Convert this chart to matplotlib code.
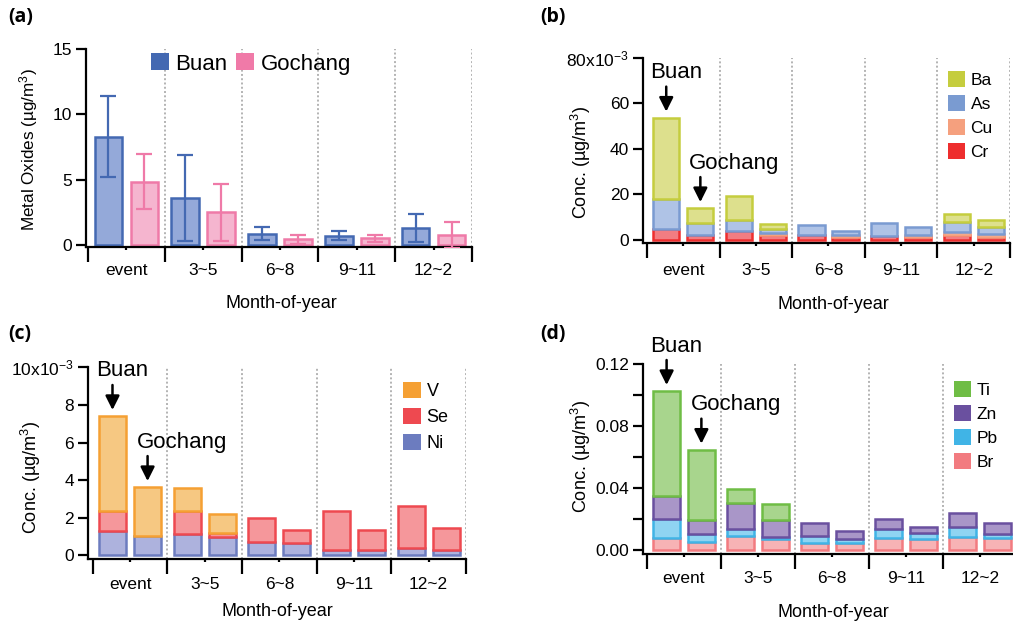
import numpy as np
import matplotlib
matplotlib.use('Agg')
import matplotlib.pyplot as plt
from matplotlib.patches import Patch
from matplotlib.transforms import offset_copy

plt.rcParams['font.family'] = ['Liberation Sans', 'DejaVu Sans']
plt.rcParams['mathtext.default'] = 'regular'

W, H = 1013, 622

periods = ['event', '3~5', '6~8', '9~11', '12~2']
sites = ['Buan', 'Gochang']

# (a) metal oxides, ug/m3
oxide_buan = [8.3, 3.6, 0.85, 0.7, 1.3]
oxide_buan_err = [3.1, 3.3, 0.5, 0.35, 1.1]
oxide_gochang = [4.85, 2.5, 0.45, 0.5, 0.75]
oxide_gochang_err = [2.1, 2.2, 0.35, 0.25, 1.0]

# (b) x10^-3 ug/m3, stacked bottom->top: Cr, Cu, As, Ba
b_elements = ['Cr', 'Cu', 'As', 'Ba']
Cr_buan = [5.0, 4.0, 2.2, 1.75, 2.2]
Cu_buan = [0.0, 0.0, 0.0, 0.0, 1.45]
As_buan = [12.9, 4.8, 4.4, 5.85, 4.35]
Ba_buan = [35.8, 10.3, 0.0, 0.0, 3.2]
Cr_gochang = [2.2, 2.2, 1.5, 1.5, 1.5]
Cu_gochang = [0.0, 0.7, 0.7, 0.8, 1.1]
As_gochang = [5.1, 1.8, 1.9, 3.55, 3.25]
Ba_gochang = [6.7, 2.2, 0.0, 0.0, 3.05]

# (c) x10^-3 ug/m3, stacked bottom->top: Ni, Se, V
c_elements = ['Ni', 'Se', 'V']
Ni_buan = [1.28, 1.12, 0.72, 0.30, 0.37]
Se_buan = [1.09, 1.25, 1.26, 2.07, 2.27]
V_buan = [5.04, 1.21, 0.0, 0.0, 0.0]
Ni_gochang = [1.04, 0.96, 0.64, 0.30, 0.30]
Se_gochang = [0.0, 0.24, 0.69, 1.06, 1.17]
V_gochang = [2.59, 1.01, 0.0, 0.0, 0.0]

# (d) ug/m3, stacked bottom->top: Br, Pb, Zn, Ti
d_elements = ['Br', 'Pb', 'Zn', 'Ti']
Br_buan = [0.0077, 0.0092, 0.0045, 0.0079, 0.0084]
Pb_buan = [0.0125, 0.0043, 0.0049, 0.0058, 0.0064]
Zn_buan = [0.0148, 0.0170, 0.0084, 0.0067, 0.0094]
Ti_buan = [0.0676, 0.0088, 0.0, 0.0, 0.0]
Br_gochang = [0.0055, 0.0073, 0.0045, 0.0071, 0.0077]
Pb_gochang = [0.0048, 0.0012, 0.0028, 0.0042, 0.0026]
Zn_gochang = [0.0090, 0.0112, 0.0053, 0.0039, 0.0073]
Ti_gochang = [0.0455, 0.0101, 0.0, 0.0, 0.0]

# colours (edge, fill, legend)
site_edge = ['#4469b2', '#ef7aa8']
site_fill = ['#94a9d9', '#f5b5cf']
b_edge = ['#ee2e2e', '#f5a07e', '#7a9bd1', '#c5cd3e']
b_fill = ['#f27d82', '#f9c5ae', '#afc3e6', '#dde08d']
c_edge = ['#6c7cbf', '#ee4950', '#f5a033']
c_fill = ['#adb2dd', '#f5979b', '#f6c882']
d_edge = ['#f27b80', '#40b4e6', '#6a509f', '#6fbd45']
d_fill = ['#f7b3b5', '#8fd4f2', '#a996c8', '#a8d58d']

OFFSET = 0.235
BW = 0.36
ELW = 1.8
TFS = 12.5   # tick label size
LFS = 13     # axis label size

fig = plt.figure(figsize=(W / 100, H / 100), dpi=100)


def make_axes(l, t, r, b):
    return fig.add_axes([l / W, 1 - b / H, (r - l) / W, (b - t) / H])


def style(ax, xlim, ylim, yticks, yticklabels, xpad, ylab, ylab_pos, xlab_pos, yminor=None, ylfs=LFS):
    for s in ['top', 'right']:
        ax.spines[s].set_visible(False)
    for s in ['left', 'bottom']:
        ax.spines[s].set_linewidth(1.6)
    ax.set_xlim(*xlim)
    ax.set_ylim(*ylim)
    ax.set_xticks(np.arange(6))
    ax.set_xticklabels([])
    ax.set_xticks(np.arange(5) + 0.5, minor=True)
    ax.set_xticklabels(periods, minor=True)
    ax.tick_params(axis='x', which='major', length=11, width=1.6, direction='out')
    ax.tick_params(axis='x', which='minor', length=2.2, width=1.6, direction='out',
                   pad=xpad, labelsize=TFS)
    ax.set_yticks(yticks)
    ax.set_yticklabels(yticklabels)
    if yminor is not None:
        ax.set_yticks(yminor, minor=True)
    ax.tick_params(axis='y', which='both', length=7.5, width=1.6, direction='out',
                   pad=2.5, labelsize=TFS)
    for i in range(1, 6):
        ax.axvline(i, color='#b3b3b3', lw=1.4, ls=(0, (1, 1.2)), zorder=0)
    ax.set_ylabel(ylab, fontsize=ylfs)
    ax.yaxis.set_label_coords(*ylab_pos)
    ax.set_xlabel('Month-of-year', fontsize=LFS)
    ax.xaxis.set_label_coords(*xlab_pos)


def stack(ax, layers_by_site, edges, fills):
    x = np.arange(5) + 0.5
    tops = []
    for si, layers in enumerate(layers_by_site):
        xs = x - OFFSET if si == 0 else x + OFFSET
        bottom = np.zeros(5)
        for li, vals in enumerate(layers):
            v = np.asarray(vals, dtype=float)
            lw = np.where(v > 0, ELW, 0.0)
            ax.bar(xs, v, BW, bottom=bottom, color=fills[li], edgecolor=edges[li],
                   linewidth=lw, zorder=2)
            bottom = bottom + v
        tops.append(bottom)
    return tops


def annotate_sites(ax, tops):
    x0 = 0.5
    for si, name in enumerate(sites):
        xs = x0 - OFFSET if si == 0 else x0 + OFFSET
        top = tops[si][0]
        tip = offset_copy(ax.transData, fig=fig, x=0, y=6, units='dots')
        ax.annotate('', xy=(xs, top), xycoords=tip, xytext=(0, 25), textcoords='offset pixels',
                    arrowprops=dict(arrowstyle='-|>', lw=1.8, color='black',
                                    mutation_scale=21, shrinkA=0, shrinkB=0))
        dx = -16 if si == 0 else -11
        ax.annotate(name, xy=(xs, top), xytext=(dx, 45), textcoords='offset pixels',
                    ha='left', va='center', fontsize=16)


def legend(ax, names, colors, anchor, fs=12.5):
    handles = [Patch(facecolor=c, edgecolor='none', label=n) for n, c in zip(names, colors)]
    ax.legend(handles=handles, loc='upper left', bbox_to_anchor=(anchor[0] / W, 1 - anchor[1] / H),
              bbox_transform=fig.transFigure, frameon=False, fontsize=fs, borderpad=0,
              borderaxespad=0, handlelength=1.0, handleheight=1.0, handletextpad=0.3,
              labelspacing=0.42)


# ---------------- (a)
axa = make_axes(86, 49, 472, 247)
x = np.arange(5) + 0.5
axa.bar(x - OFFSET, oxide_buan, BW, color=site_fill[0], edgecolor=site_edge[0], linewidth=ELW, zorder=2)
axa.bar(x + OFFSET, oxide_gochang, BW, color=site_fill[1], edgecolor=site_edge[1], linewidth=ELW, zorder=2)
axa.errorbar(x - OFFSET, oxide_buan, yerr=oxide_buan_err, fmt='none', ecolor=site_edge[0],
             elinewidth=1.6, capsize=5.5, capthick=1.6, zorder=3)
axa.errorbar(x + OFFSET, oxide_gochang, yerr=oxide_gochang_err, fmt='none', ecolor=site_edge[1],
             elinewidth=1.6, capsize=5.5, capthick=1.6, zorder=3)
style(axa, (-0.026, 5), (-0.153, 15), [0, 5, 10, 15], ['0', '5', '10', '15'], 9.5,
      'Metal Oxides (µg/m$^3$)', (-0.118, 0.492), (0.505, -0.242), ylfs=12.3)
hs = [Patch(facecolor=c, edgecolor='none', label=n) for n, c in zip(sites, ['#4469b2', '#f07aa8'])]
axa.legend(handles=hs, loc='center left', bbox_to_anchor=(151 / W, 1 - 64 / H),
           bbox_transform=fig.transFigure, frameon=False, fontsize=16, ncol=2,
           borderpad=0, borderaxespad=0, handlelength=0.8, handleheight=0.8,
           handletextpad=0.3, columnspacing=0.4)

# ---------------- (b)
axb = make_axes(643, 57.7, 1010, 243.3)
tb = stack(axb, [[Cr_buan, Cu_buan, As_buan, Ba_buan],
                 [Cr_gochang, Cu_gochang, As_gochang, Ba_gochang]], b_edge, b_fill)
style(axb, (-0.055, 5), (-1.45, 80), [0, 20, 40, 60, 80],
      ['0', '20', '40', '60', '80x10$^{-3}$'], 12,
      'Conc. (µg/m$^3$)', (-0.136, 0.433), (0.519, -0.284))
annotate_sites(axb, tb)
legend(axb, b_elements[::-1], b_edge[::-1], (948, 71))

# ---------------- (c)
axc = make_axes(88, 367.3, 466, 558.7)
tc = stack(axc, [[Ni_buan, Se_buan, V_buan], [Ni_gochang, Se_gochang, V_gochang]], c_edge, c_fill)
style(axc, (-0.063, 5), (-0.18, 10), [0, 2, 4, 6, 8, 10],
      ['0', '2', '4', '6', '8', '10x10$^{-3}$'], 11,
      'Conc. (µg/m$^3$)', (-0.118, 0.424), (0.5, -0.231))
annotate_sites(axc, tc)
legend(axc, c_elements[::-1], c_edge[::-1], (403, 382), fs=13)

# ---------------- (d)
axd = make_axes(643, 364, 1017, 554.3)
td = stack(axd, [[Br_buan, Pb_buan, Zn_buan, Ti_buan],
                 [Br_gochang, Pb_gochang, Zn_gochang, Ti_gochang]], d_edge, d_fill)
style(axd, (-0.054, 5), (-0.0026, 0.12), [0, 0.04, 0.08, 0.12],
      ['0.00', '0.04', '0.08', '0.12'], 10,
      'Conc. (µg/m$^3$)', (-0.134, 0.513), (0.509, -0.261), yminor=[0.02, 0.06, 0.10])
annotate_sites(axd, td)
legend(axd, d_elements[::-1], d_edge[::-1], (954, 381))

for lab, (px, py) in zip(['(a)', '(b)', '(c)', '(d)'], [(8, 7), (540, 7), (8, 324), (540, 324)]):
    fig.text(px / W, 1 - py / H, lab, fontsize=14, fontweight='bold', family='Open Sans',
             ha='left', va='top')

fig.savefig('out.png', dpi=100)
